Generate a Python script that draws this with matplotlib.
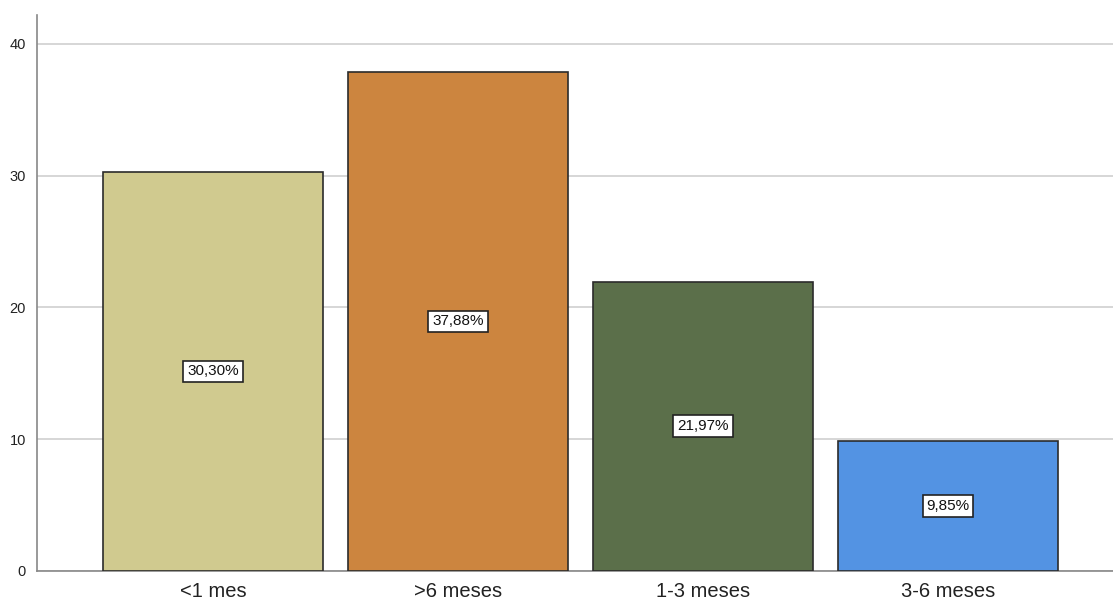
import matplotlib.pyplot as plt

plt.rcParams['font.family'] = ['Liberation Sans', 'DejaVu Sans']

# Datos
categorias = ['<1 mes', '>6 meses', '1-3 meses', '3-6 meses']
porcentajes = [30.30, 37.88, 21.97, 9.85]
etiquetas = ['30,30%', '37,88%', '21,97%', '9,85%']
colores = ['#D0CA8F', '#CC853F', '#5B6F4A', '#5393E3']

fig = plt.figure(figsize=(11.13, 6.03), dpi=100)
ax = fig.add_axes([37 / 1113, 32 / 603, 1076 / 1113, 556 / 603])

x = range(len(categorias))
ax.bar(x, porcentajes, width=0.898, color=colores, edgecolor='#2b2b2b',
       linewidth=1.2, zorder=3)

for i, (v, txt) in enumerate(zip(porcentajes, etiquetas)):
    ax.text(i, v / 2, txt, ha='center', va='center', fontsize=11, zorder=4,
            color='#111111',
            bbox=dict(boxstyle='square,pad=0.25', fc='white', ec='#222222', lw=1.2))

ax.set_xlim(-0.718, 3.673)
ax.set_ylim(0, 42.2)
ax.set_yticks([0, 10, 20, 30, 40])
ax.set_xticks(list(x))
ax.set_xticklabels(categorias, fontsize=14.5, color='#222222')
ax.tick_params(axis='y', length=0, labelsize=10.5, pad=8, labelcolor='#222222')
ax.tick_params(axis='x', length=0, pad=8)
ax.grid(axis='y', color='#d0d0d0', linewidth=1.2, zorder=0)

for s in ['top', 'right']:
    ax.spines[s].set_visible(False)
for s in ['left', 'bottom']:
    ax.spines[s].set_color('#888888')
    ax.spines[s].set_linewidth(1.2)

fig.savefig('out.png', dpi=100)
